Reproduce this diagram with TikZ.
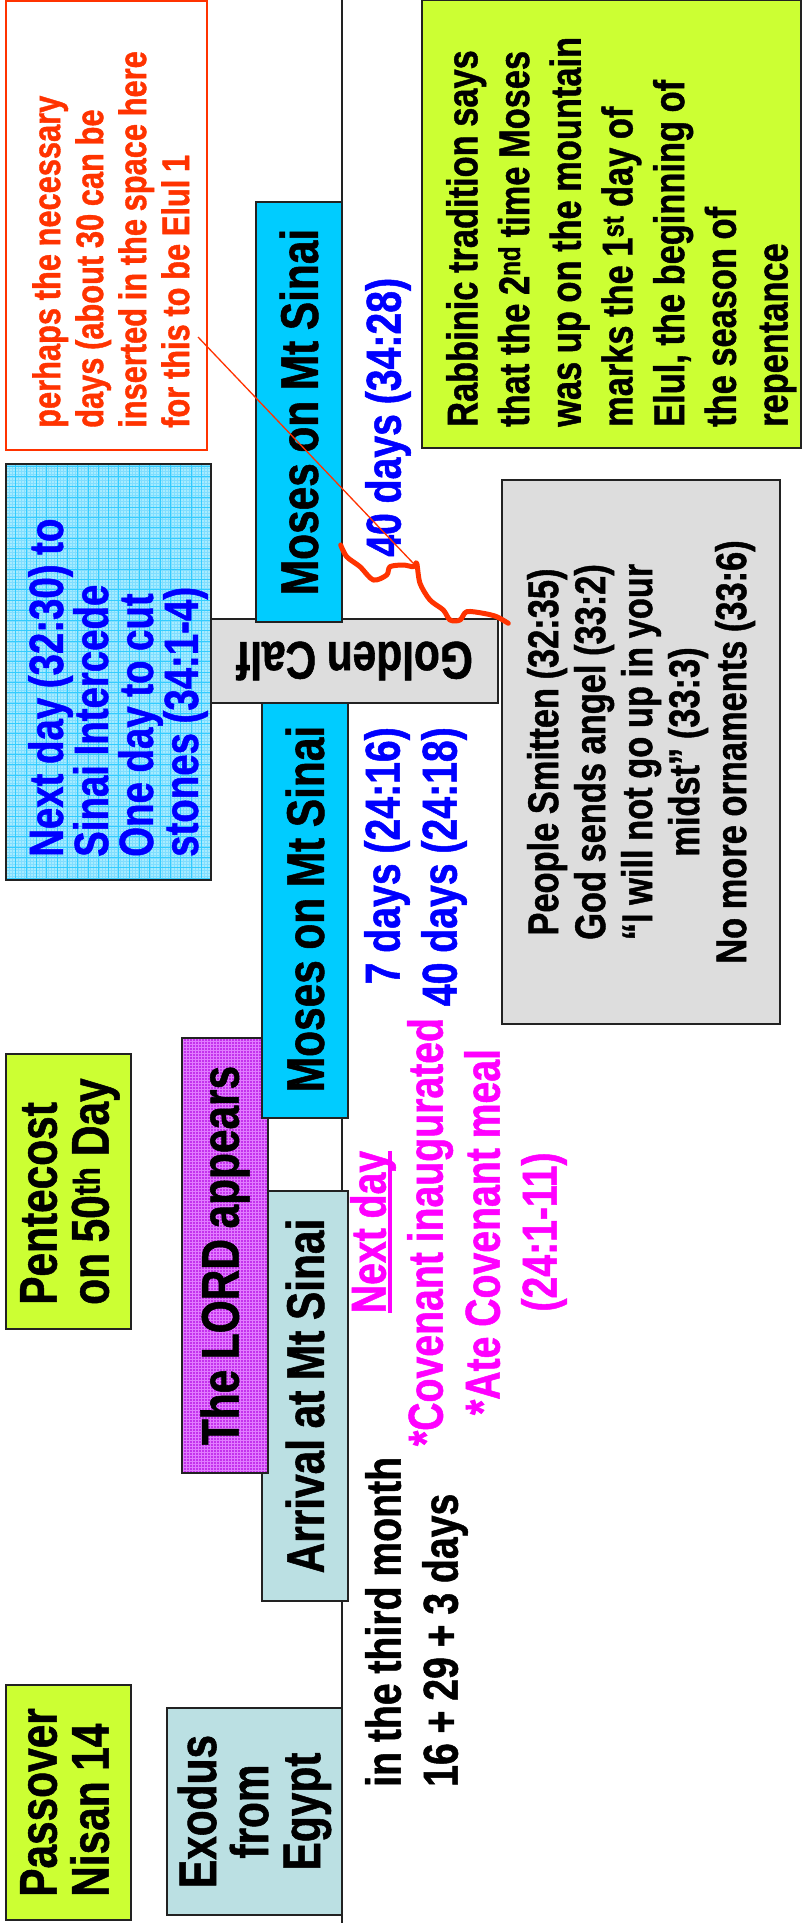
\documentclass[tikz,border=0pt]{standalone}
\usepackage{fontspec}
\setmainfont{Liberation Sans}[FakeStretch=0.8, WordSpace=0.9, BoldFeatures={FakeBold=1}]
\usetikzlibrary{patterns}
\definecolor{yg}{HTML}{CCFF33}
\definecolor{lblue}{HTML}{BBE0E3}
\definecolor{cyanb}{HTML}{00CCFF}
\definecolor{greyb}{HTML}{DDDDDD}
\definecolor{lordc}{HTML}{C433EC}
\definecolor{lordg}{HTML}{E27CFF}
\definecolor{ndfill}{HTML}{A6ECFF}
\definecolor{ndfine}{HTML}{80DDFF}
\definecolor{ndgrid}{HTML}{33CCFF}
\definecolor{txtblue}{HTML}{0000FF}
\definecolor{txtmag}{HTML}{FF00FF}
\definecolor{orng}{HTML}{FF3300}
\definecolor{edge}{HTML}{222222}
\newcommand\fs[2]{\fontsize{#1pt}{#2pt}\selectfont\bfseries}
\newlength\ullen
\newcommand\myul[1]{\settowidth\ullen{#1}\rlap{\rule[-0.12em]{\ullen}{0.07em}}#1}
\tikzset{
  box/.style={draw=edge, line width=1.6pt, inner sep=0pt, align=center},
  vert/.style={rotate=90},
  vtext/.style={rotate=90, inner sep=0pt},
  big/.style={font=\fs{53}{52}},
}
\begin{document}
\begin{tikzpicture}[x=1pt,y=1pt]
\useasboundingbox (0,0) rectangle (801,-1923);
\fill[white] (0,0) rectangle (801,-1923);

% timeline
\coordinate (lineTop) at (342,0);
\coordinate (lineBot) at (342,-1923);
\draw[edge, line width=1.5pt] (lineTop) -- (lineBot);

% boxes on the timeline
\node[box, vert, big, fill=lblue, minimum width=207, minimum height=175] (exodus) at (254.5,-1811.5) {Exodus\\from\\Egypt};
\node[box, vert, big, fill=lblue, minimum width=410, minimum height=86] (arrival) at (305,-1396) {Arrival at Mt Sinai};
\node[box, vert, big, fill=lordc, minimum width=435, minimum height=86,
  path picture={\fill[pattern=grid, pattern color=lordg] (-600,-600) rectangle (600,600);}] (lord) at (225,-1255.5) {The LORD appears};
\node[box, vert, big, fill=cyanb, minimum width=418, minimum height=86] (moses1) at (305,-909) {Moses on Mt Sinai};
\node[box, rotate=180, big, fill=greyb, minimum width=287, minimum height=84] (calf) at (354.5,-661) {Golden Calf};
\node[box, vert, big, fill=cyanb, minimum width=420, minimum height=86] (moses2) at (299,-412) {Moses on Mt Sinai};

% left boxes
\node[box, vert, fill=yg, minimum width=235, minimum height=125] (passover) at (68.5,-1802.5) {};
\node[vtext, big, anchor=north west, align=left] (passoverT) at (20,-1897) {Passover\\Nisan 14};
\node[box, vert, fill=yg, minimum width=275, minimum height=125] (pentecost) at (68.5,-1191.5) {};
\node[vtext, big, anchor=north west, align=left] (pentecostT) at (20,-1305) {Pentecost\\on 50\textsuperscript{th} Day};
\node[box, vert, fill=ndfill, minimum width=416, minimum height=205,
  path picture={\fill[pattern=grid, pattern color=ndfine] (-600,-600) rectangle (600,600);
                \draw[ndgrid, line width=0.8pt, step=10.3pt] (-600,-600) grid (600,600);}] (nextday) at (108.5,-672) {};
\node[vtext, anchor=north west, align=left, text=txtblue, font=\fs{48}{45}] (nextdayT) at (28,-857) {Next day (32:30) to\\Sinai Intercede\\One day to cut\\stones (34:1-4)};
\node[box, vert, draw=orng, line width=1.8pt, fill=white, minimum width=449, minimum height=201] (perhaps) at (106.5,-225.5) {};
\node[vtext, anchor=north west, align=left, text=orng, font=\fs{38.5}{43}] (perhapsT) at (32,-428) {perhaps the necessary\\days (about 30 can be\\inserted in the space here\\for this to be Elul 1};

% right boxes
\node[box, vert, fill=yg, minimum width=448, minimum height=379] (rabbinic) at (611.5,-224) {};
\node[vtext, anchor=north west, align=left, font=\fs{43}{51.7}] (rabbinicT) at (446,-427) {Rabbinic tradition says\\that the 2\textsuperscript{nd} time Moses\\was up on the mountain\\marks the 1\textsuperscript{st} day of\\Elul, the beginning of\\the season of\\repentance};
\node[box, vert, fill=greyb, minimum width=544, minimum height=278, align=center, font=\fs{43}{47}] (smitten) at (641,-752) {People Smitten (32:35)\\God sends angel (33:2)\\“I will not go up in your\\midst” (33:3)\\No more ornaments (33:6)};

% free texts
\node[vtext, anchor=north west, align=left, text=txtblue, font=\fs{49}{57}] (days2) at (365,-557) {40 days (34:28)};
\node[vtext, anchor=north east, align=right, text=txtblue, font=\fs{49}{57}] (days1) at (364,-727) {7 days (24:16)\\40 days (24:18)};
\node[vtext, anchor=north, align=center, text=txtmag, font=\fs{49}{57}] (covenant) at (350,-1232) {\myul{Next day}\\*Covenant inaugurated\\*Ate Covenant meal\\(24:1-11)};
\node[vtext, anchor=north west, align=left, font=\fs{49}{57}] (month) at (365,-1787) {in the third month\\16 + 29 + 3 days};

% pointer line and squiggle
\coordinate (ptrA) at (198,-337);
\coordinate (ptrB) at (413,-563);
\draw[orng, line width=1.3pt] (ptrA) -- (ptrB);
\draw[orng, line width=5pt, line cap=round, line join=round] plot[smooth, tension=0.5] coordinates {(340.7,-545) (346.7,-556.7) (360,-566.7) (373.3,-580) (386.7,-575) (390,-566.7) (403.3,-565) (413.3,-566.7) (416.7,-563.3) (420,-583.3) (430,-600) (443.3,-610) (450,-620) (460,-620) (466.7,-611.7) (483.3,-613.3) (496.7,-616.7) (508.3,-623.3)};
\end{tikzpicture}
\end{document}
